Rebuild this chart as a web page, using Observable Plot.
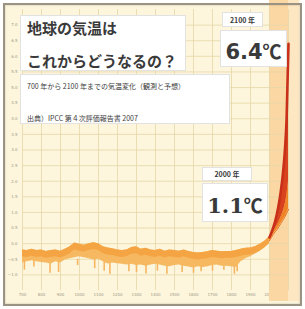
<!DOCTYPE html>
<html><head><meta charset="utf-8">
<script src="https://cdn.jsdelivr.net/npm/d3@7"></script>
<script src="https://cdn.jsdelivr.net/npm/@observablehq/plot@0.6"></script>
<style>
body{margin:0;background:#fff;}
#wrap{position:relative;width:305px;height:309px;overflow:hidden;font-family:"Noto Sans CJK JP",sans-serif;}
#bg{position:absolute;left:5px;top:5px;width:295px;height:299px;background:#fdf6dc;}
#chart{position:absolute;left:0;top:0;}
#frame{position:absolute;left:3px;top:3px;width:295px;height:299px;border:2px solid #9a9282;box-shadow:inset 0 0 2px rgba(0,0,0,0.25);}
.box{position:absolute;background:#fff;border:1px solid #e2e2e2;box-sizing:border-box;color:#3a3a3a;white-space:nowrap;}
.deg{font-family:"Noto Sans CJK JP",sans-serif;font-weight:700;font-size:19px;}
</style></head>
<body>
<div id="wrap">
  <div id="bg"></div>
  <div id="chart"></div>
  <div class="box" style="left:20px;top:15px;width:166px;height:56px;font-weight:700;font-size:15px;padding-left:6px;">
    <div style="position:absolute;top:1px;line-height:22px;">地球の気温は</div>
    <div style="position:absolute;top:34px;line-height:22px;">これからどうなるの？</div>
  </div>
  <div class="box" style="left:20px;top:74px;width:210px;height:50px;font-size:7px;padding-left:6px;">
    <div style="position:absolute;top:6px;">700 年から 2100 年までの気温変化（観測と予想）</div>
    <div style="position:absolute;top:38px;">出典）IPCC 第４次評価報告書 2007</div>
  </div>
  <div class="box" style="left:222px;top:12px;width:41px;height:15px;font-size:7px;font-weight:700;text-align:center;line-height:14px;">2100 年</div>
  <div class="box" style="left:220px;top:30px;width:67px;height:37px;font-size:21px;font-weight:700;text-align:center;line-height:40px;font-family:'DejaVu Sans',sans-serif;">6.4<span class="deg">℃</span></div>
  <div class="box" style="left:202px;top:167px;width:50px;height:14px;font-size:7px;font-weight:700;text-align:center;line-height:13px;">2000 年</div>
  <div class="box" style="left:202px;top:183px;width:66px;height:39px;font-size:21px;font-weight:700;text-align:center;line-height:42px;font-family:'DejaVu Serif',serif;">1.1<span class="deg">℃</span></div>
  <div id="frame"></div>
</div>
<script>
// Observed / reconstructed temperature band (°C), 700–2000
const obsYears = [700,725,750,775,800,825,850,875,900,925,950,975,1000,1025,1050,1075,1100,1125,1150,1175,1200,1225,1250,1275,1300,1325,1350,1375,1400,1425,1450,1475,1500,1525,1550,1575,1600,1625,1650,1675,1700,1725,1750,1775,1800,1825,1850,1875,1900,1925,1950,1975,2000];
const obsUpper = [-0.20,-0.22,-0.18,-0.22,-0.20,-0.25,-0.22,-0.20,-0.24,-0.18,-0.10,0.02,-0.02,-0.05,0.00,0.03,0.00,-0.10,-0.14,-0.16,-0.20,-0.22,-0.20,-0.12,-0.10,-0.18,-0.15,-0.20,-0.22,-0.18,-0.24,-0.20,-0.22,-0.24,-0.20,-0.25,-0.28,-0.30,-0.28,-0.26,-0.22,-0.24,-0.26,-0.25,-0.25,-0.22,-0.18,-0.15,-0.14,-0.10,-0.02,0.08,0.22];
const obsLower = [-0.62,-0.58,-0.55,-0.58,-0.60,-0.62,-0.65,-0.58,-0.62,-0.52,-0.48,-0.45,-0.42,-0.45,-0.48,-0.52,-0.50,-0.58,-0.65,-0.62,-0.64,-0.66,-0.68,-0.66,-0.70,-0.68,-0.72,-0.68,-0.66,-0.68,-0.72,-0.74,-0.70,-0.68,-0.72,-0.75,-0.78,-0.74,-0.76,-0.74,-0.70,-0.68,-0.72,-0.72,-0.74,-0.76,-0.58,-0.48,-0.42,-0.33,-0.24,-0.12,0.05];
// Cold excursions below the band
const spikeYears = [710,760,845,890,990,1080,1130,1160,1260,1300,1350,1410,1460,1540,1600,1640,1700,1760,1815,1830];
const spikeValues = [-0.85,-0.75,-0.95,-0.92,-0.70,-0.80,-0.88,-0.98,-0.90,-0.92,-0.97,-0.88,-0.98,-0.92,-0.95,-0.90,-0.88,-0.85,-0.98,-0.90];
// Projection fan 2000–2100
const fanYears = [2000,2010,2020,2030,2040,2050,2060,2070,2080,2090,2100];
const fanLower = [0.10,0.20,0.30,0.38,0.45,0.55,0.65,0.75,0.85,0.97,1.10];
const fanMid   = [0.15,0.26,0.37,0.48,0.58,0.70,0.84,1.00,1.20,1.50,2.00];
const fanUpper = [0.20,0.35,0.52,0.72,0.98,1.30,1.70,2.20,2.90,4.00,6.40];
const xTicks = [700,800,900,1000,1100,1200,1300,1400,1500,1600,1700,1800,1900,2000,2100];
const yTicks = [-1,-0.5,0,0.5,1,1.5,2,2.5,3,3.5,4,4.5,5,5.5,6,6.5,7];

const obs = obsYears.map((year,i)=>({year, hi:obsUpper[i], lo:obsLower[i], core:obsUpper[i]-0.22}));
const spikes = spikeYears.map((year,i)=>({year, v:spikeValues[i]}));
const fan = fanYears.map((year,i)=>({year, lo:fanLower[i], mid:fanMid[i], hi:fanUpper[i]}));
const bands = [{x1:2000,x2:2100,f:"#fbd7a3"},{x1:2100,x2:2160,f:"#fde6c2"}];

const chart = Plot.plot({
  width:305, height:309,
  marginLeft:22, marginRight:17, marginTop:9, marginBottom:19,
  style:{background:"transparent", color:"#a09a88", fontSize:"4px", fontFamily:"DejaVu Sans"},
  x:{domain:[700,2100], ticks:xTicks, tickSize:0, tickPadding:3, tickFormat:d=>String(d)},
  y:{domain:[-1.5,7.5], ticks:yTicks, tickSize:0, tickPadding:5, tickFormat:d3.format(".1f")},
  marks:[
    Plot.rect(bands,{x1:"x1",x2:"x2",y1:-1.85,y2:7.9,fill:"f"}),
    Plot.gridX(xTicks,{stroke:"#e6d7a8",strokeOpacity:0.8}),
    Plot.gridY(yTicks,{stroke:"#e6d7a8",strokeOpacity:0.8}),
    Plot.ruleX(spikes,{x:"year",y1:-0.5,y2:"v",stroke:"#f6b560",strokeWidth:1.6}),
    Plot.areaY(obs,{x:"year",y1:"lo",y2:"hi",fill:"#f7b862"}),
    Plot.areaY(obs,{x:"year",y1:"core",y2:"hi",fill:"#f4a443"}),
    Plot.areaY(fan,{x:"year",y1:"lo",y2:"mid",fill:"#ef8425",curve:"monotone-x"}),
    Plot.areaY(fan,{x:"year",y1:"mid",y2:"hi",fill:"#d8421c",curve:"monotone-x"}),
    Plot.line(fan,{x:"year",y:"hi",stroke:"#c8301a",strokeWidth:2.6,curve:"monotone-x"}),
    Plot.line(fan,{x:"year",y:"lo",stroke:"#e8701e",strokeWidth:1,curve:"monotone-x"})
  ]
});
document.getElementById("chart").appendChild(chart);
</script>
</body></html>
